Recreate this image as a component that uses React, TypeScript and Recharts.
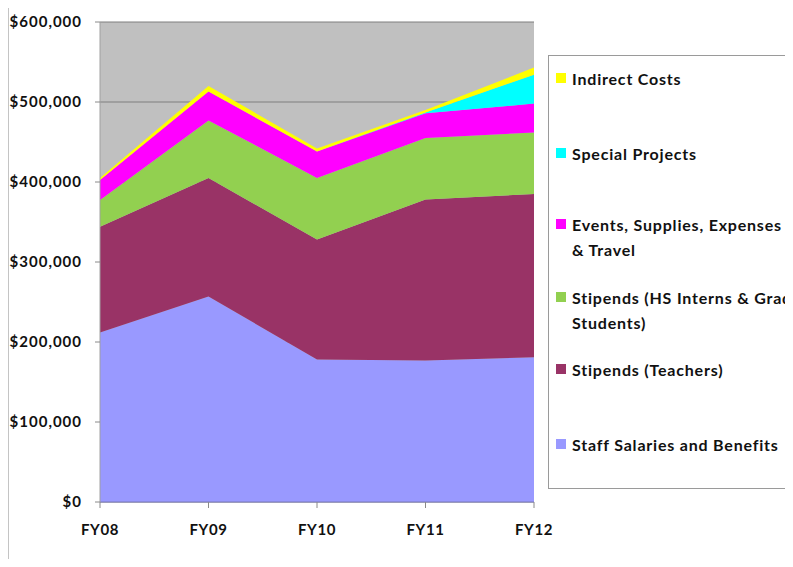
import React from "react";
import {
  AreaChart,
  Area,
  XAxis,
  YAxis,
  CartesianGrid,
} from "recharts";

const categories = ["FY08", "FY09", "FY10", "FY11", "FY12"];
const staffSalaries = [212000, 257000, 178000, 177000, 181000];
const stipendsTeachers = [132000, 148000, 150000, 201000, 204000];
const stipendsInterns = [33500, 72000, 77000, 77000, 77000];
const eventsSupplies = [25000, 36000, 33000, 31000, 36000];
const specialProjects = [0, 0, 0, 1000, 36000];
const indirectCosts = [2500, 7000, 4000, 3000, 9000];
const yTicks = [0, 100000, 200000, 300000, 400000, 500000, 600000];

const series = [
  { key: "staff", name: "Staff Salaries and Benefits", lines: ["Staff Salaries and Benefits"], color: "#9999FF", values: staffSalaries },
  { key: "teachers", name: "Stipends (Teachers)", lines: ["Stipends (Teachers)"], color: "#993366", values: stipendsTeachers },
  { key: "interns", name: "Stipends (HS Interns & Grad Students)", lines: ["Stipends (HS Interns & Grad", "Students)"], color: "#92D050", values: stipendsInterns },
  { key: "events", name: "Events, Supplies, Expenses & Travel", lines: ["Events, Supplies, Expenses", "& Travel"], color: "#FF00FF", values: eventsSupplies },
  { key: "special", name: "Special Projects", lines: ["Special Projects"], color: "#00FFFF", values: specialProjects },
  { key: "indirect", name: "Indirect Costs", lines: ["Indirect Costs"], color: "#FFFF00", values: indirectCosts },
];

const data = categories.map((c, i) => {
  const row: Record<string, string | number> = { name: c };
  series.forEach((s) => {
    row[s.key] = s.values[i];
  });
  return row;
});

const FONT = "Lato, 'Open Sans', sans-serif";

// legend item vertical offsets (first-line centre) inside the legend box
const legendOffsets = [22, 97, 168, 241, 313, 388];

const CustomLegend = () => {
  const items = [...series].reverse();
  return (
    <div
      style={{
        position: "absolute",
        left: 540,
        top: 47,
        width: 300,
        height: 434,
        border: "1.5px solid #9a9a9a",
        background: "#fff",
        boxSizing: "border-box",
        fontFamily: FONT,
        fontWeight: 700,
        fontSize: 16,
        letterSpacing: 0.8,
        color: "#111",
      }}
    >
      {items.map((s, i) => (
        <div
          key={s.key}
          style={{ position: "absolute", left: 7, top: legendOffsets[i] - 12.5 }}
        >
          <div
            style={{
              position: "absolute",
              left: 0,
              top: 7.5,
              width: 10,
              height: 10,
              background: s.color,
            }}
          />
          <div style={{ position: "absolute", left: 16, top: 0, lineHeight: "25px", whiteSpace: "nowrap" }}>
            {s.lines.map((l, j) => (
              <div key={j}>{l}</div>
            ))}
          </div>
        </div>
      ))}
    </div>
  );
};

const fmt = (v: number) => "$" + v.toLocaleString("en-US");

export default function App() {
  return (
    <div style={{ position: "relative", width: 785, height: 551, overflow: "hidden" }}>
      <div
        style={{
          position: "absolute",
          left: -1,
          top: 0,
          width: 2,
          height: 551,
          background: "#c4c4c4",
        }}
      />
      <AreaChart
        width={785}
        height={551}
        data={data}
        margin={{ top: 14, right: 259, bottom: 27, left: 0 }}
      >
        <CartesianGrid
          vertical={false}
          stroke="#7f7f7f"
          strokeWidth={1}
          fill="#C0C0C0"
          fillOpacity={1}
        />
        <XAxis
          dataKey="name"
          tickSize={6}
          tickMargin={16}
          axisLine={{ stroke: "#7878b8" }}
          tickLine={{ stroke: "#8a8a8a" }}
          tick={{ fontFamily: FONT, fontWeight: 700, fontSize: 15, fill: "#111", letterSpacing: 0.6 }}
          height={30}
          interval={0}
        />
        <YAxis
          width={92}
          domain={[0, 600000]}
          ticks={yTicks}
          tickFormatter={fmt}
          tickSize={5}
          tickMargin={13}
          axisLine={{ stroke: "#a0a0a0" }}
          tickLine={{ stroke: "#8a8a8a" }}
          tick={{ fontFamily: FONT, fontWeight: 700, fontSize: 15, fill: "#111", letterSpacing: 1 }}
          interval={0}
        />
        {series.map((s) => (
          <Area
            key={s.key}
            type="linear"
            dataKey={s.key}
            name={s.name}
            stackId="1"
            stroke="none"
            fill={s.color}
            fillOpacity={1}
            isAnimationActive={false}
            dot={false}
            activeDot={false}
          />
        ))}
      </AreaChart>
      <CustomLegend />
    </div>
  );
}
